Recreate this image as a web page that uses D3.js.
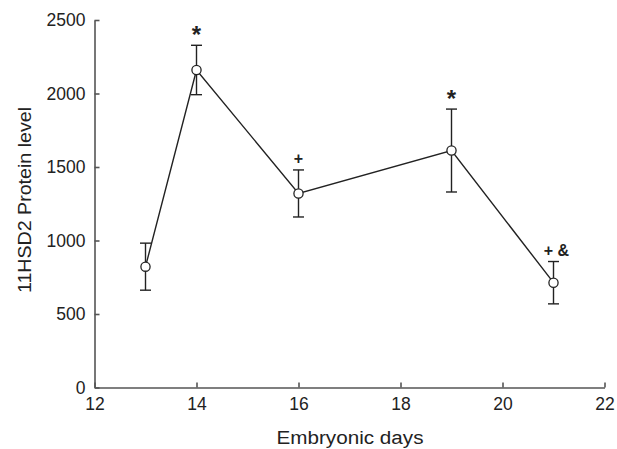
<!DOCTYPE html>
<html>
<head>
<meta charset="utf-8">
<script src="https://cdn.jsdelivr.net/npm/d3@7"></script>
<style>
  body { margin: 0; background: #fff; }
  svg { display: block; }
  text { font-family: Arial, "Liberation Sans", sans-serif; fill: #222; }
</style>
</head>
<body>
<svg id="chart" width="617" height="449"></svg>
<script>
var days = [13, 14, 16, 19, 21]
var means = [822, 2160, 1320, 1612, 713]
var errs = [160, 168, 160, 282, 144]
var marks = ['', '*', '+', '*', '+ &']
var xTicks = [12, 14, 16, 18, 20, 22]
var yTicks = [0, 500, 1000, 1500, 2000, 2500]

var svg = d3.select('#chart')
var axisColor = '#555'
var lineColor = '#222'

var xscale = d3.scaleLinear().domain([12, 22]).range([94.5, 604.5])
var yscale = d3.scaleLinear().domain([0, 2500]).range([387.5, 20])

var data = days.map(function (d, i) {
    return { day: d, mean: means[i], err: errs[i], mark: marks[i] }
})

// axes, ticks pointing inward
svg.append('g')
    .attr('transform', 'translate(0,' + yscale(0) + ')')
    .call(d3.axisBottom(xscale).tickValues(xTicks).tickFormat(d3.format('d'))
        .tickSizeInner(-5).tickSizeOuter(0).tickPadding(10))
svg.append('g')
    .attr('transform', 'translate(' + xscale(12) + ',0)')
    .call(d3.axisLeft(yscale).tickValues(yTicks).tickFormat(d3.format('d'))
        .tickSizeInner(-5).tickSizeOuter(0).tickPadding(9))

svg.selectAll('.domain, .tick line').attr('stroke', axisColor).attr('stroke-width', 1.6)
svg.selectAll('.tick text').attr('font-size', 17.5).style('font-family', 'Arial, "Liberation Sans", sans-serif').attr('fill', '#222')

// error bars
var eb = svg.append('g').attr('stroke', lineColor).attr('stroke-width', 1.4)
eb.selectAll('line.v').data(data).enter().append('line')
    .attr('class', 'v')
    .attr('x1', d => xscale(d.day)).attr('x2', d => xscale(d.day))
    .attr('y1', d => yscale(d.mean - d.err)).attr('y2', d => yscale(d.mean + d.err))
eb.selectAll('line.t').data(data).enter().append('line')
    .attr('class', 't')
    .attr('x1', d => xscale(d.day) - 5.5).attr('x2', d => xscale(d.day) + 5.5)
    .attr('y1', d => yscale(d.mean + d.err)).attr('y2', d => yscale(d.mean + d.err))
eb.selectAll('line.b').data(data).enter().append('line')
    .attr('class', 'b')
    .attr('x1', d => xscale(d.day) - 5.5).attr('x2', d => xscale(d.day) + 5.5)
    .attr('y1', d => yscale(d.mean - d.err)).attr('y2', d => yscale(d.mean - d.err))

// connecting line
var line = d3.line().x(d => xscale(d.day)).y(d => yscale(d.mean))
svg.append('path').datum(data)
    .attr('d', line)
    .attr('fill', 'none')
    .attr('stroke', lineColor)
    .attr('stroke-width', 1.4)

// open circles
svg.append('g').selectAll('circle').data(data).enter().append('circle')
    .attr('cx', d => xscale(d.day))
    .attr('cy', d => yscale(d.mean))
    .attr('r', 4.6)
    .attr('fill', '#fff')
    .attr('stroke', lineColor)
    .attr('stroke-width', 1.3)

// significance marks
svg.append('g').selectAll('text').data(data.filter(d => d.mark)).enter().append('text')
    .attr('x', function (d) { return xscale(d.day) + (d.mark.length > 1 ? 3 : 0) })
    .attr('y', function (d) { return yscale(d.mean + d.err) - (d.mark == '*' ? 2 : 6) })
    .attr('text-anchor', 'middle')
    .attr('font-size', d => d.mark == '*' ? 24 : 16)
    .attr('font-weight', 'bold')
    .text(d => d.mark)

// axis titles
svg.append('text').text('Embryonic days')
    .attr('x', 350).attr('y', 444)
    .attr('text-anchor', 'middle').attr('font-size', 18)
    .attr('textLength', 147).attr('lengthAdjust', 'spacingAndGlyphs')
svg.append('text').text('11HSD2 Protein level')
    .attr('transform', 'translate(31,200) rotate(-90)')
    .attr('text-anchor', 'middle').attr('font-size', 18)
    .attr('textLength', 186).attr('lengthAdjust', 'spacingAndGlyphs')
</script>
</body>
</html>
